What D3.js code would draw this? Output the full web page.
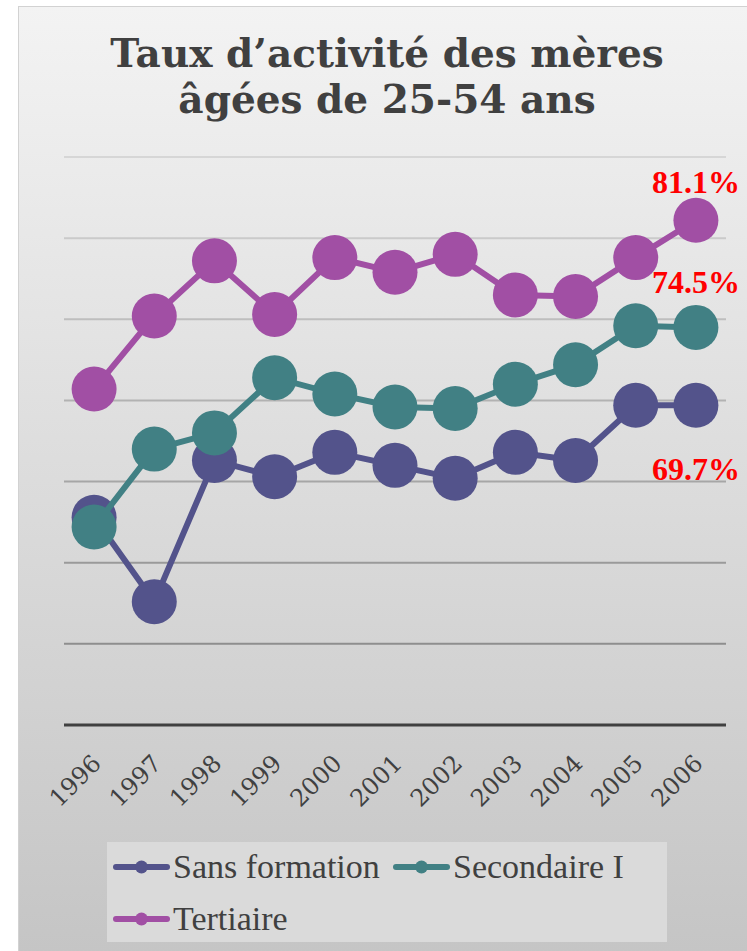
<!DOCTYPE html>
<html>
<head>
<meta charset="utf-8">
<script src="https://cdn.jsdelivr.net/npm/d3@7"></script>
<style>
  body { margin: 0; background: #fff; }
  svg { display: block; }
</style>
</head>
<body>
<svg id="chart"></svg>
<script>
// chart data
const years = ['1996', '1997', '1998', '1999', '2000', '2001', '2002', '2003', '2004', '2005', '2006'];
const sansFormation = [62.8, 57.6, 66.3, 65.3, 66.8, 66.0, 65.2, 66.8, 66.3, 69.7, 69.7];
const secondaireI = [62.2, 67.0, 68.0, 71.4, 70.4, 69.6, 69.5, 71.0, 72.2, 74.6, 74.5];
const tertiaire = [70.7, 75.2, 78.6, 75.3, 78.8, 77.9, 79.0, 76.5, 76.4, 78.8, 81.1];
const seriesNames = ['Sans formation', 'Secondaire I', 'Tertiaire'];
const gridTicks = [55, 60, 65, 70, 75, 80, 85];
const titleLines = ['Taux d\u2019activité des mères', 'âgées de 25-54 ans'];

const width = 747, height = 951;
const margin = { top: 157, right: 21, bottom: 226, left: 64 };
const colors = ['#53538b', '#418084', '#a14fa4'];
// label offsets for the 2006 end values (dx, dy from the point)
const labelOffsets = [[44, 75], [44, -34], [44, -27]];

const series = seriesNames.map((name, i) => ({
    name: name,
    values: [sansFormation, secondaireI, tertiaire][i].map((v, j) => ({ year: years[j], value: v }))
}));

const svg = d3.select('#chart')
    .attr('width', width)
    .attr('height', height);

const defs = svg.append('defs');
const bg = defs.append('linearGradient')
    .attr('id', 'bg')
    .attr('x1', 0).attr('y1', 0).attr('x2', 0).attr('y2', 1);
bg.append('stop').attr('offset', '0%').attr('stop-color', '#f3f3f3');
bg.append('stop').attr('offset', '100%').attr('stop-color', '#c5c5c5');

// chart area
svg.append('rect')
    .attr('x', 18.5).attr('y', 6.5)
    .attr('width', width - 18).attr('height', height - 6)
    .attr('fill', 'url(#bg)')
    .attr('stroke', '#d2d2d2')
    .attr('stroke-width', 1);

const xScale = d3.scalePoint()
    .domain(years)
    .range([margin.left, width - margin.right])
    .padding(0.5);

const yScale = d3.scaleLinear()
    .domain([50, 85])
    .range([height - margin.bottom, margin.top]);

const gridColor = d3.scaleLinear()
    .domain([85, 55])
    .range(['#d6d6d6', '#8e8e8e']);

// title
svg.append('text')
    .attr('x', 387)
    .attr('y', 67)
    .attr('text-anchor', 'middle')
    .attr('font-family', '"DejaVu Serif", serif')
    .attr('font-weight', 'bold')
    .attr('font-size', 39)
    .attr('fill', '#404040')
    .selectAll('tspan')
    .data(titleLines)
    .join('tspan')
        .attr('x', 387)
        .attr('dy', (d, i) => i === 0 ? 0 : 46)
        .text(d => d);

// gridlines
svg.append('g')
    .selectAll('line')
    .data(gridTicks)
    .join('line')
        .attr('x1', margin.left)
        .attr('x2', width - margin.right)
        .attr('y1', d => yScale(d))
        .attr('y2', d => yScale(d))
        .attr('stroke', d => gridColor(d))
        .attr('stroke-width', 2);

// x axis
const xAxis = d3.axisBottom(xScale).tickSize(0).tickPadding(0);
const xAxisG = svg.append('g')
    .attr('transform', `translate(0,${yScale(50)})`)
    .call(xAxis)
    .attr('font-family', '"DejaVu Serif", serif')
    .attr('font-size', 24);
xAxisG.select('.domain').remove();
xAxisG.append('line')
    .attr('x1', margin.left)
    .attr('x2', width - margin.right)
    .attr('stroke', '#404040')
    .attr('stroke-width', 3);
xAxisG.selectAll('.tick text')
    .attr('fill', '#404040')
    .attr('text-anchor', 'end')
    .attr('dy', 0)
    .attr('transform', 'translate(8,40) rotate(-45)');

// lines and markers
const line = d3.line()
    .x(d => xScale(d.year))
    .y(d => yScale(d.value));

const seriesG = svg.append('g')
    .selectAll('g')
    .data(series)
    .join('g');

seriesG.append('path')
    .attr('d', d => line(d.values))
    .attr('fill', 'none')
    .attr('stroke', (d, i) => colors[i])
    .attr('stroke-width', 6);

seriesG.selectAll('circle')
    .data((d, i) => d.values.map(v => ({ ...v, color: colors[i] })))
    .join('circle')
        .attr('cx', d => xScale(d.year))
        .attr('cy', d => yScale(d.value))
        .attr('r', 22.5)
        .attr('fill', d => d.color);

// end labels
svg.append('g')
    .selectAll('text')
    .data(series)
    .join('text')
        .attr('x', (d, i) => xScale(years[years.length - 1]) + labelOffsets[i][0])
        .attr('y', (d, i) => yScale(d.values[d.values.length - 1].value) + labelOffsets[i][1])
        .attr('text-anchor', 'end')
        .attr('fill', '#ff0000')
        .attr('font-family', '"Liberation Serif", serif')
        .attr('font-weight', 'bold')
        .attr('font-size', 32)
        .text(d => d.values[d.values.length - 1].value.toFixed(1) + '%');

// legend
const legend = svg.append('g');
legend.append('rect')
    .attr('x', 107).attr('y', 842)
    .attr('width', 560).attr('height', 100)
    .attr('fill', '#dadada');

const legendPos = [[113, 867], [393, 867], [113, 919]];
const legendItem = legend.selectAll('g')
    .data(seriesNames)
    .join('g')
        .attr('transform', (d, i) => `translate(${legendPos[i][0]},${legendPos[i][1]})`);

legendItem.append('line')
    .attr('x1', 3).attr('x2', 54)
    .attr('stroke', (d, i) => colors[i])
    .attr('stroke-width', 6)
    .attr('stroke-linecap', 'round');
legendItem.append('circle')
    .attr('cx', 28.5)
    .attr('r', 6.5)
    .attr('fill', (d, i) => colors[i]);
legendItem.append('text')
    .attr('x', 60)
    .attr('y', 11)
    .attr('fill', '#404040')
    .attr('font-family', '"Liberation Serif", serif')
    .attr('font-size', 34)
    .text(d => d);
</script>
</body>
</html>
